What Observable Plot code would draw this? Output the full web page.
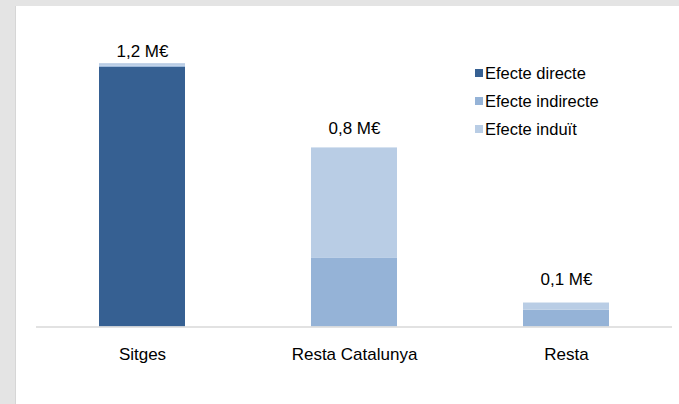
<!DOCTYPE html>
<html>
<head>
<meta charset="utf-8">
<script src="https://cdn.jsdelivr.net/npm/d3@7"></script>
<script src="https://cdn.jsdelivr.net/npm/@observablehq/plot@0.6"></script>
<style>
  html, body { margin: 0; padding: 0; }
  body { width: 679px; height: 404px; background: #e4e4e4; position: relative; overflow: hidden; font-family: "Liberation Sans", Arial, sans-serif; }
  #panel { position: absolute; left: 15px; top: 6px; right: 0; bottom: 0; background: #fff; border-left: 1px solid #d6d6d6; }
  #chart { position: absolute; left: 0; top: 0; }
  #legend { position: absolute; left: 475px; top: 59px; }
  .item { height: 28px; display: flex; align-items: center; font-size: 16.5px; color: #000; }
  .sw { width: 8px; height: 8px; margin-right: 2px; }
</style>
</head>
<body>
<div id="panel"></div>
<div id="chart"></div>
<div id="legend"></div>
<script>
const categories = ["Sitges", "Resta Catalunya", "Resta"];
const seriesNames = ["Efecte directe", "Efecte indirecte", "Efecte induït"];
const directe = [1.18, 0, 0];
const indirecte = [0.005, 0.314, 0.077];
const induit = [0.012, 0.5, 0.032];
const totalLabels = ["1,2 M€", "0,8 M€", "0,1 M€"];
const labelY = [1.25, 0.9, 0.215];
const colors = ["#366092", "#95b3d7", "#b9cde5"];

const seriesValues = [directe, indirecte, induit];
const rows = [];
seriesNames.forEach((s, si) => categories.forEach((c, ci) => rows.push({cat: c, serie: s, value: seriesValues[si][ci]})));
const labels = categories.map((c, i) => ({cat: c, y: labelY[i], text: totalLabels[i]}));

const chart = Plot.plot({
  width: 679,
  height: 404,
  marginLeft: 36,
  marginRight: 7,
  marginTop: 29.5,
  marginBottom: 77.5,
  style: {fontFamily: "'Liberation Sans', Arial, sans-serif", fontSize: "17px", background: "transparent", color: "#000"},
  x: {domain: categories, paddingInner: 0.594, paddingOuter: 0.297, label: null},
  y: {domain: [0, 1.35], axis: null},
  color: {domain: seriesNames, range: colors},
  marks: [
    Plot.barY(rows, {x: "cat", y: "value", fill: "serie"}),
    Plot.ruleY([0], {stroke: "#d9d9d9", strokeWidth: 1.5}),
    Plot.text(labels, {x: "cat", y: "y", text: "text", fontSize: 17, fill: "#000"}),
    Plot.axisX({tickSize: 0, tickPadding: 21, fontSize: 17, label: null, fill: "#000"})
  ]
});
document.getElementById("chart").appendChild(chart);

const legend = document.getElementById("legend");
seriesNames.forEach((s, i) => {
  const d = document.createElement("div");
  d.className = "item";
  d.innerHTML = `<span class="sw" style="background:${colors[i]}"></span><span></span>`;
  d.lastChild.textContent = s;
  legend.appendChild(d);
});
</script>
</body>
</html>
